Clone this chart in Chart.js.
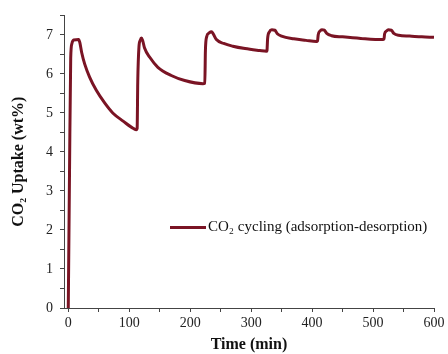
<!DOCTYPE html>
<html>
<head>
<meta charset="utf-8">
<script src="https://cdn.jsdelivr.net/npm/chart.js@4/dist/chart.umd.min.js"></script>
<style>
  html, body { margin: 0; padding: 0; background: #fff; }
  #wrap { width: 448px; height: 354px; }
</style>
</head>
<body>
<div id="wrap"><canvas id="uptakeChart"></canvas></div>
<script>
// time (min) and CO2 uptake (wt%)
const timeMin = [
    0, 2, 4, 6, 9, 17, 19, 22, 27, 35, 46, 60, 73, 90, 107, 112,
    113, 114, 116, 118, 120, 122, 125, 134, 147, 169, 191, 221,
    224, 225, 227, 231, 235, 238, 243, 255, 270, 290, 314, 325,
    326, 327, 330, 334, 339, 343, 350, 370, 390, 407,
    409, 410, 413, 416, 420, 424, 432, 450, 480, 516,
    518, 519, 522, 525, 530, 534, 542, 560, 580, 600
];
const uptake = [
    0, 3.4, 6.4, 6.78, 6.87, 6.88, 6.8, 6.55, 6.25, 5.92, 5.58, 5.25, 5.0, 4.79, 4.6, 4.57,
    4.6, 5.8, 6.7, 6.86, 6.92, 6.86, 6.67, 6.42, 6.17, 5.96, 5.83, 5.75,
    5.76, 6.6, 6.95, 7.05, 7.08, 7.02, 6.88, 6.78, 6.71, 6.65, 6.6, 6.58,
    6.6, 6.9, 7.08, 7.13, 7.12, 7.03, 6.97, 6.9, 6.86, 6.83,
    6.85, 7.0, 7.1, 7.13, 7.12, 7.04, 6.98, 6.95, 6.91, 6.88,
    6.9, 7.03, 7.1, 7.13, 7.12, 7.04, 6.99, 6.97, 6.95, 6.94
];
const seriesLabel = 'CO\u2082 cycling (adsorption-desorption)';

// tick positions (labels only on the round ones)
const xTicks = [0, 50, 100, 150, 200, 250, 300, 350, 400, 450, 500, 550, 600];
const yTicks = [0, 0.5, 1, 1.5, 2, 2.5, 3, 3.5, 4, 4.5, 5, 5.5, 6, 6.5, 7, 7.5];

const lineColor = '#7a1424';
const axisColor = '#444';
const serif = '"Liberation Serif", "Times New Roman", serif';

// legend drawn inside the plot area, like the original
const insideLegend = {
    id: 'insideLegend',
    afterDatasetsDraw(chart) {
        const ctx = chart.ctx;
        const area = chart.chartArea;
        const ds = chart.data.datasets[0];
        const x = area.left + 106;
        const y = area.top + 212;
        ctx.save();
        ctx.strokeStyle = ds.borderColor;
        ctx.lineWidth = 3;
        ctx.beginPath();
        ctx.moveTo(x, y);
        ctx.lineTo(x + 36, y);
        ctx.stroke();
        ctx.fillStyle = '#111';
        ctx.font = '15px ' + serif;
        ctx.textBaseline = 'middle';
        ctx.fillText(ds.label, x + 38, y);
        ctx.restore();
    }
};

const ctx = document.getElementById('uptakeChart').getContext('2d');
new Chart(ctx, {
    type: 'line',
    data: {
        datasets: [{
            label: seriesLabel,
            data: timeMin.map((t, i) => ({ x: t, y: uptake[i] })),
            borderColor: lineColor,
            borderWidth: 3,
            pointRadius: 0,
            fill: false,
            cubicInterpolationMode: 'monotone'
        }]
    },
    options: {
        responsive: true,
        maintainAspectRatio: false,
        animation: false,
        layout: { padding: { top: 10, right: 14, left: 0, bottom: 0 } },
        plugins: {
            legend: { display: false },
            tooltip: { enabled: false }
        },
        scales: {
            x: {
                type: 'linear',
                min: -7,
                max: 600,
                afterBuildTicks: scale => { scale.ticks = xTicks.map(v => ({ value: v })); },
                afterFit: scale => { scale.height = 46; },
                ticks: {
                    autoSkip: false,
                    maxRotation: 0,
                    padding: 3,
                    color: '#222',
                    font: { family: serif, size: 14 },
                    callback: v => (v % 100 === 0 ? String(v) : '')
                },
                grid: {
                    drawOnChartArea: false,
                    drawTicks: true,
                    tickLength: 4,
                    tickColor: axisColor
                },
                border: { display: true, color: axisColor, width: 1 },
                title: {
                    display: true,
                    text: 'Time (min)',
                    color: '#111',
                    font: { family: serif, size: 16, weight: 'bold' },
                    padding: { top: 0, bottom: 0 }
                }
            },
            y: {
                min: 0,
                max: 7.5,
                afterBuildTicks: scale => { scale.ticks = yTicks.map(v => ({ value: v })); },
                afterFit: scale => { scale.width = 64; },
                ticks: {
                    autoSkip: false,
                    padding: 7,
                    color: '#222',
                    font: { family: serif, size: 14 },
                    callback: v => (Number.isInteger(v) ? String(v) : '')
                },
                grid: {
                    drawOnChartArea: false,
                    drawTicks: true,
                    tickLength: 4,
                    tickColor: axisColor
                },
                border: { display: true, color: axisColor, width: 1 },
                title: {
                    display: true,
                    text: 'CO\u2082 Uptake (wt%)',
                    color: '#111',
                    font: { family: serif, size: 16, weight: 'bold' },
                    padding: { top: 9, bottom: 0 }
                }
            }
        }
    },
    plugins: [insideLegend]
});
</script>
</body>
</html>
